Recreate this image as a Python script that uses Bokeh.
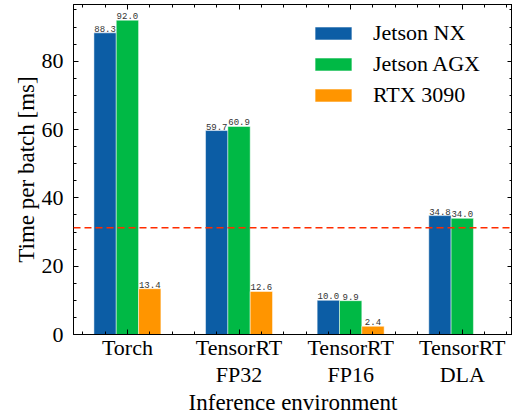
from bokeh.plotting import figure
from bokeh.models import (ColumnDataSource, FixedTicker, LinearAxis, Span, Legend,
                          LegendItem, Range1d)
from bokeh.core.properties import value
from bokeh.embed import file_html
from bokeh.resources import INLINE

categories = ["Torch", "TensorRT\nFP32", "TensorRT\nFP16", "TensorRT\nDLA"]
series = ["Jetson NX", "Jetson AGX", "RTX 3090"]
jetson_nx = [88.3, 59.7, 10.0, 34.8]
jetson_agx = [92.0, 60.9, 9.9, 34.0]
rtx_3090 = [13.4, 12.6, 2.4, None]
threshold = 31.25
colors = ["#0C5DA5", "#00B945", "#FF9500"]
y_ticks = [0, 20, 40, 60, 80]

SERIF = "Liberation Serif"

p = figure(width=512, height=417, output_backend="svg", toolbar_location=None,
           x_range=Range1d(-0.483, 3.45), y_range=Range1d(0, 96.6),
           min_border_left=73, min_border_right=0, min_border_top=4,
           min_border_bottom=10)
p.outline_line_color = "black"
p.outline_line_width = 1
p.xgrid.visible = False
p.ygrid.visible = False
p.background_fill_color = "white"

width = 0.2
offsets = [-0.2, 0.0, 0.2]
renderers = []
for vals, off, col in zip([jetson_nx, jetson_agx, rtx_3090], offsets, colors):
    xs = [i + off for i, v in enumerate(vals) if v is not None]
    ys = [v for v in vals if v is not None]
    labels = ["%.1f" % v for v in ys]
    src = ColumnDataSource(dict(x=xs, top=ys, label=labels))
    r = p.vbar(x="x", top="top", width=width, source=src, fill_color=col,
               line_color="white", line_alpha=0.6, line_width=0.8)
    renderers.append(r)
    p.text(x="x", y="top", text="label", source=src, text_align="center",
           text_baseline="bottom", y_offset=-1, text_font=value("Liberation Mono"),
           text_font_size="9px", text_color="#333333")

p.add_layout(Span(location=threshold, dimension="width", line_color="#FF2C00",
                  line_dash="7 4", line_width=1.5))

x_major = [0, 1, 2, 3]
x_minor = [-0.4, -0.2, 0.2, 0.4, 0.6, 0.8, 1.2, 1.4, 1.6, 1.8, 2.2, 2.4, 2.6, 2.8,
           3.2, 3.4]
y_minor = [5, 10, 15, 25, 30, 35, 45, 50, 55, 65, 70, 75, 85, 90, 95]
xt = FixedTicker(ticks=x_major, minor_ticks=x_minor)
yt = FixedTicker(ticks=y_ticks, minor_ticks=y_minor)


def style(ax, labels=True, ticks=None):
    ax.major_tick_in = 5
    ax.major_tick_out = 0
    ax.minor_tick_in = 3
    ax.minor_tick_out = 0
    ax.axis_line_color = "black"
    ax.major_tick_line_color = "black"
    ax.minor_tick_line_color = "black"
    if labels:
        ax.major_label_text_font = SERIF
        ax.major_label_text_font_size = "22px"
        ax.major_label_text_color = "black"
        ax.axis_label_text_font = SERIF
        ax.axis_label_text_font_size = "23px"
        ax.axis_label_text_font_style = "normal"
        ax.axis_label_text_color = "black"
    else:
        ax.major_label_overrides = {t: "" for t in ticks}
        ax.major_label_text_font_size = "1px"
        ax.major_label_standoff = 0


xa = p.xaxis[0]
xa.ticker = xt
xa.major_label_overrides = {i: c for i, c in enumerate(categories)}
xa.axis_label = "Inference environment"
style(xa)
xa.major_label_text_line_height = 1.08
xa.major_label_standoff = 0
xa.axis_label_standoff = 0

ya = p.yaxis[0]
ya.ticker = yt
ya.axis_label = "Time per batch [ms]"
style(ya)
ya.major_label_standoff = 10
ya.axis_label_standoff = 0

top_ax = LinearAxis(ticker=xt)
style(top_ax, labels=False, ticks=x_major)
p.add_layout(top_ax, "above")
right_ax = LinearAxis(ticker=yt)
style(right_ax, labels=False, ticks=y_ticks)
p.add_layout(right_ax, "right")

items = [LegendItem(label=s, renderers=[r]) for s, r in zip(series, renderers)]
legend = Legend(items=items, location=(237, 226), border_line_color=None,
                background_fill_alpha=0, padding=0, margin=0,
                glyph_width=46, glyph_height=16, label_height=16,
                label_standoff=17, spacing=5,
                label_text_font=SERIF, label_text_font_size="22px",
                label_text_color="black")
p.add_layout(legend, "center")

open("out.html", "w").write(file_html(p, INLINE))
